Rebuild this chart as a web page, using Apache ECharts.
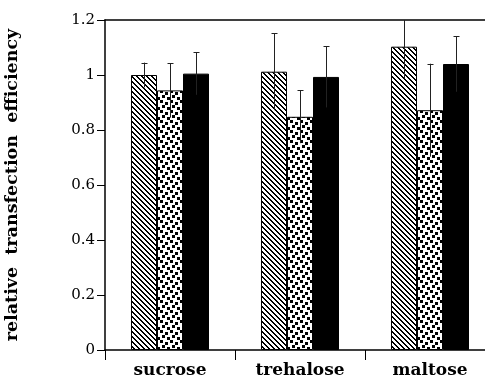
<!DOCTYPE html>
<html>
<head>
<meta charset="utf-8">
<script src="https://cdn.jsdelivr.net/npm/echarts@6/dist/echarts.min.js"></script>
<style>html,body{margin:0;padding:0;background:#fff;}#c{width:485px;height:386px;}</style>
</head>
<body>
<div id="c"></div>
<script>
var categories = ['sucrose', 'trehalose', 'maltose'];
var hatchValues = [1.00, 1.012, 1.103];
var hatchErrors = [0.045, 0.14, 0.115];
var dottedValues = [0.944, 0.848, 0.872];
var dottedErrors = [0.099, 0.096, 0.169];
var blackValues = [1.005, 0.993, 1.04];
var blackErrors = [0.077, 0.111, 0.101];
var yTicks = [0, 0.2, 0.4, 0.6, 0.8, 1, 1.2];

function hatchTile() {
  var n = 5;
  var c = document.createElement('canvas'); c.width = n; c.height = n;
  var g = c.getContext('2d'); g.fillStyle = '#fff'; g.fillRect(0,0,n,n);
  g.fillStyle = '#000';
  for (var x = 0; x < n; x++) for (var y = 0; y < n; y++) {
    var d = ((x - y) % n + n) % n;
    if (d === 0 || d === 1) g.fillRect(x, y, 1, 1);
  }
  return c;
}
function dotTile() {
  var n = 10;
  var c = document.createElement('canvas'); c.width = n; c.height = n;
  var g = c.getContext('2d'); g.fillStyle = '#fff'; g.fillRect(0,0,n,n);
  g.fillStyle = '#000';
  [[0,0],[5,2],[2,5],[7,7]].forEach(function(p){ g.fillRect(p[0], p[1], 3, 3); });
  return c;
}

var chart = echarts.init(document.getElementById('c'), null, {renderer: 'canvas'});
var yMax = 1.2;
var frac = 0.2;

function errSeries(values, errors, k) {
  return {
    type: 'custom',
    xAxisIndex: 0, yAxisIndex: 0,
    z: 5,
    data: values.map(function(v, i){ return [i, v, errors[i]]; }),
    renderItem: function(params, api) {
      var i = api.value(0), v = api.value(1), e = api.value(2);
      var band = api.size([1, 0])[0];
      var off = band * frac * (k - 1);
      var top = v + e, capped = false;
      if (top > yMax) { top = yMax; capped = true; }
      var pT = api.coord([i, top]);
      var pB = api.coord([i, v - e]);
      var x = Math.round(pT[0] + off) + 0.5;
      var children = [{
        type: 'line', shape: {x1: x, y1: pT[1], x2: x, y2: pB[1]},
        style: {stroke: '#222', lineWidth: 1}
      }];
      if (!capped) children.push({
        type: 'line', shape: {x1: x - 3, y1: Math.round(pT[1]) + 0.5, x2: x + 3, y2: Math.round(pT[1]) + 0.5},
        style: {stroke: '#222', lineWidth: 1}
      });
      return {type: 'group', children: children};
    }
  };
}

var barCommon = {type: 'bar', barWidth: '20%', barGap: '0%', xAxisIndex: 0, yAxisIndex: 0};

chart.setOption({
  animation: false,
  backgroundColor: '#fff',
  grid: {left: 105, top: 20, right: -10, bottom: 36, containLabel: false, outerBoundsMode: 'none'},
  xAxis: [{
    type: 'category', data: categories, position: 'bottom',
    axisLine: {lineStyle: {color: '#000', width: 1.5}},
    axisTick: {show: true, length: 10, lineStyle: {color: '#000'}},
    axisLabel: {color: '#000', fontFamily: 'DejaVu Serif', fontWeight: 'bold', fontSize: 17, margin: 12}
  }, {
    type: 'category', data: categories, position: 'top',
    axisLine: {show: true, lineStyle: {color: '#000', width: 1.5}},
    axisTick: {show: false}, axisLabel: {show: false}
  }],
  yAxis: {
    type: 'value', min: 0, max: 1.2, interval: 0.2,
    name: 'relative  transfection  efficiency', nameLocation: 'middle', nameRotate: 90, nameGap: 84,
    nameTextStyle: {color: '#000', fontFamily: 'DejaVu Serif', fontWeight: 'bold', fontSize: 17.5},
    axisLine: {show: true, lineStyle: {color: '#000', width: 1.5}},
    axisTick: {show: true, length: 8, lineStyle: {color: '#000'}},
    splitLine: {show: false},
    axisLabel: {color: '#000', fontFamily: 'DejaVu Serif', fontSize: 15, margin: 10,
      formatter: function(v){ var t = yTicks.filter(function(x){ return Math.abs(x - v) < 1e-6; }); return t.length ? String(t[0]) : ''; }}
  },
  series: [
    Object.assign({}, barCommon, {data: hatchValues, itemStyle: {color: {image: hatchTile(), repeat: 'repeat'}, borderColor: '#000', borderWidth: 1}}),
    Object.assign({}, barCommon, {data: dottedValues, itemStyle: {color: {image: dotTile(), repeat: 'repeat'}, borderColor: '#000', borderWidth: 1}}),
    Object.assign({}, barCommon, {data: blackValues, itemStyle: {color: '#000', borderColor: '#000', borderWidth: 1}}),
    errSeries(hatchValues, hatchErrors, 0),
    errSeries(dottedValues, dottedErrors, 1),
    errSeries(blackValues, blackErrors, 2)
  ]
});
</script>
</body>
</html>
